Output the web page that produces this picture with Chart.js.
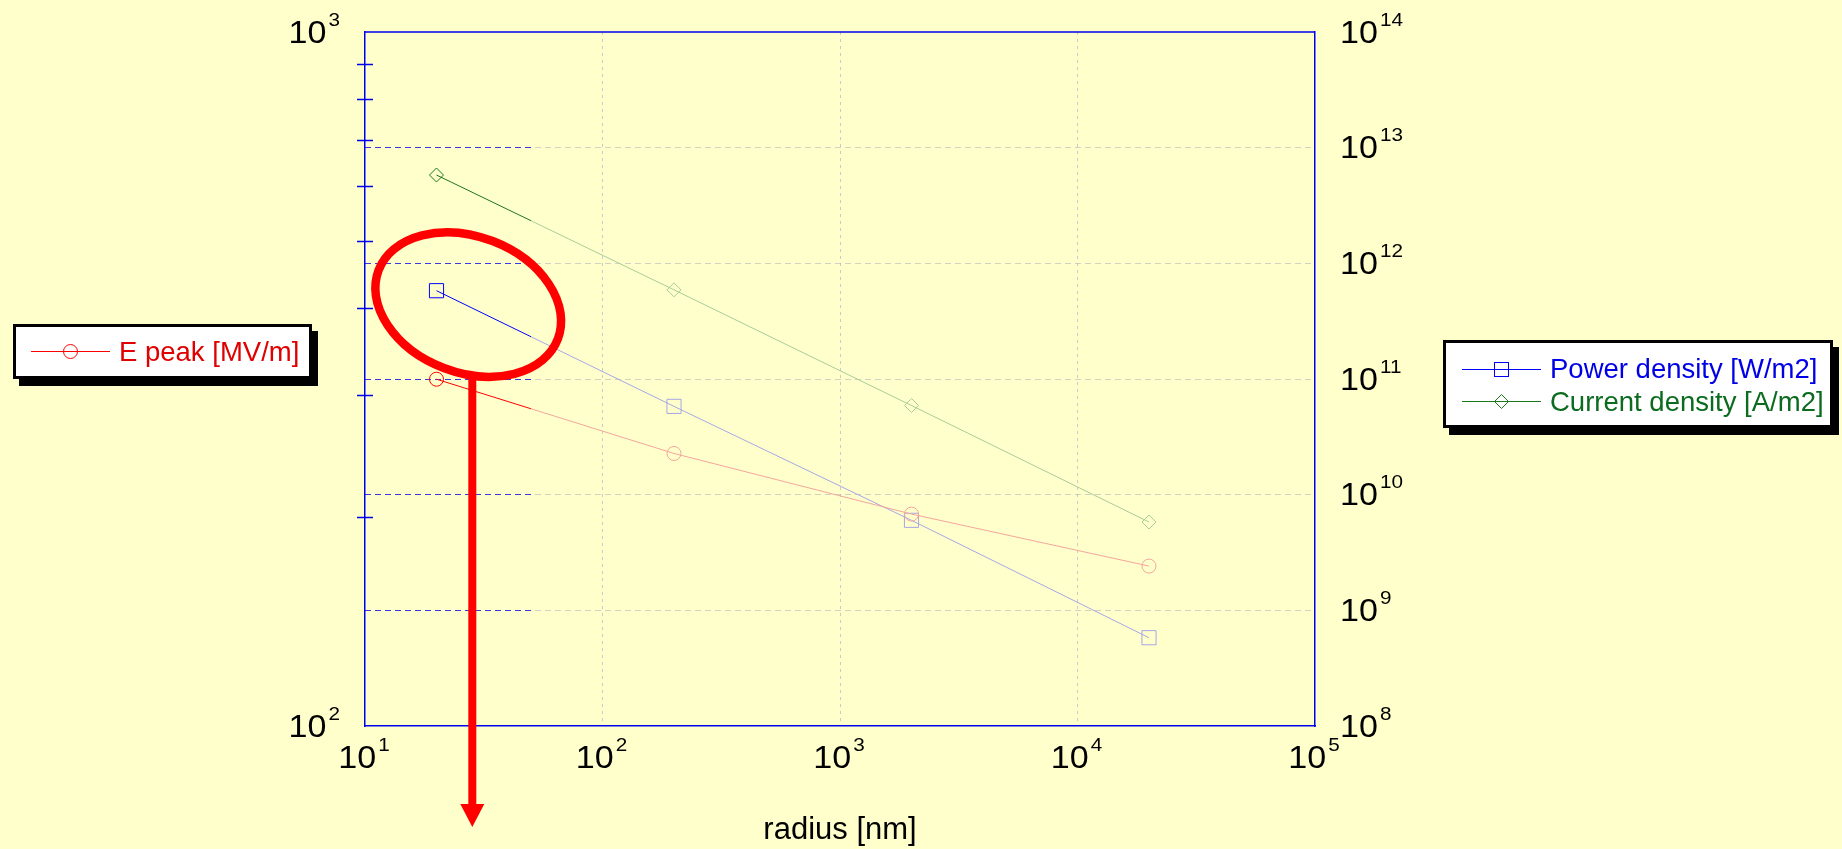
<!DOCTYPE html>
<html>
<head>
<meta charset="utf-8">
<script src="https://cdn.jsdelivr.net/npm/chart.js@4.4.1/dist/chart.umd.min.js"></script>
<style>
  body { margin: 0; background: #ffffcc; }
  #wrap { position: relative; width: 1842px; height: 849px; }
  #chart { display: block; }
  .legend {
    position: absolute; box-sizing: border-box; background: #fff;
    border: 3px solid #000; box-shadow: 6px 7px 0 #000;
    font-family: "Liberation Sans", Arial, sans-serif; font-size: 27.5px;
  }
  .legend .row { display: flex; align-items: center; white-space: nowrap; }
  .legend svg { flex: none; margin-right: 9px; }
</style>
</head>
<body>
<div id="wrap">
  <canvas id="chart" width="1842" height="849"></canvas>
  <div id="legendLeft" class="legend" style="left:13px;top:324px;width:299px;height:55px;padding:9px 0 0 15px;"></div>
  <div id="legendRight" class="legend" style="left:1443px;top:340px;width:390px;height:88px;padding:10px 0 0 16px;"></div>
</div>
<script>
// valores
const radius = [20, 200, 2000, 20000];
const ePeak = [316, 247, 202, 170];
const powerDensity = [5.8e11, 5.8e10, 6.0e9, 5.8e8];
const currentDensity = [5.8e12, 5.9e11, 5.9e10, 5.8e9];

// ticks dos eixos
const xTicks = [1e1, 1e2, 1e3, 1e4, 1e5];
const leftTicks = [1e2, 1e3];
const leftMinorTicks = [200, 300, 400, 500, 600, 700, 800, 900];
const rightTicks = [1e8, 1e9, 1e10, 1e11, 1e12, 1e13, 1e14];

const FONT = '"Liberation Sans", Arial, sans-serif';
const AXIS_BLUE = '#0000ee';
const FADE_AT = 50; // a partir daqui as linhas ficam apagadas

function fade(chart, full, faint) {
  const area = chart.chartArea;
  if (!area || !chart.scales.x) return full;
  const px = chart.scales.x.getPixelForValue(FADE_AT);
  const f = Math.min(1, Math.max(0, (px - area.left) / (area.right - area.left)));
  const g = chart.ctx.createLinearGradient(area.left, 0, area.right, 0);
  g.addColorStop(0, full);
  g.addColorStop(f, full);
  g.addColorStop(f, faint);
  g.addColorStop(1, faint);
  return g;
}

function series(label, ys, axis, full, faint, style, r) {
  return {
    label: label,
    data: radius.map((x, i) => ({x: x, y: ys[i]})),
    yAxisID: axis,
    legendSide: axis === 'y' ? 'left' : 'right',
    color: full,
    borderColor: ctx => fade(ctx.chart, full, faint),
    borderWidth: 1,
    pointStyle: style,
    pointRadius: r,
    pointHoverRadius: r,
    pointBorderWidth: 1,
    pointBorderColor: ctx => ctx.dataIndex === 0 ? full : faint,
    pointBackgroundColor: 'rgba(0,0,0,0)',
    tension: 0
  };
}

const frame = {
  id: 'frame',
  afterDatasetsDraw(chart) {
    const {ctx, chartArea: a} = chart;
    const yl = chart.scales.y;
    ctx.save();
    ctx.strokeStyle = AXIS_BLUE;
    ctx.lineWidth = 1.5;
    ctx.beginPath();
    ctx.moveTo(a.left, a.top);
    ctx.lineTo(a.right, a.top);
    leftMinorTicks.forEach(v => {
      const py = Math.round(yl.getPixelForValue(v)) + 0.5;
      ctx.moveTo(a.left - 8, py);
      ctx.lineTo(a.left + 8, py);
    });
    ctx.stroke();
    ctx.restore();
  }
};

// rotulos 10^n com expoente elevado
const powerLabels = {
  id: 'powerLabels',
  afterDraw(chart) {
    const ctx = chart.ctx;
    const big = '31px ' + FONT, small = '18px ' + FONT;
    const sBig = 1.1, sSmall = 1.15;
    const put = (txt, font, sx, x, y) => {
      ctx.save();
      ctx.font = font;
      ctx.translate(x, y);
      ctx.scale(sx, 1);
      ctx.fillText(txt, 0, 0);
      ctx.restore();
    };
    const draw = (v, px, base, align) => {
      const exp = String(Math.round(Math.log10(v)));
      ctx.font = big;
      const w1 = ctx.measureText('10').width * sBig;
      ctx.font = small;
      const w2 = ctx.measureText(exp).width * sSmall;
      const w = w1 + 2 + w2;
      const x0 = align === 'center' ? px - w / 2 : align === 'right' ? px - w : px;
      put('10', big, sBig, x0, base);
      put(exp, small, sSmall, x0 + w1 + 2, base - 17);
    };
    const {x, y, y2} = chart.scales;
    ctx.save();
    ctx.fillStyle = '#000';
    ctx.textAlign = 'left';
    ctx.textBaseline = 'alphabetic';
    x.ticks.forEach(t => draw(t.value, x.getPixelForValue(t.value) - 1, x.top + 42, 'center'));
    y.ticks.forEach(t => draw(t.value, y.right - 25, y.getPixelForValue(t.value) + 10.5, 'right'));
    y2.ticks.forEach(t => draw(t.value, y2.left + 25, y2.getPixelForValue(t.value) + 10.5, 'left'));
    ctx.restore();
  }
};

// elipse e seta vermelhas
const mark = {x: 27.2, y: 4.4e11, rx: 96, ry: 68, angle: 21, arrowX: 28.3, tipBelow: 101};
const annotation = {
  id: 'annotation',
  afterDraw(chart) {
    const {ctx, chartArea: a} = chart;
    const cx = chart.scales.x.getPixelForValue(mark.x);
    const cy = chart.scales.y2.getPixelForValue(mark.y);
    const ax = chart.scales.x.getPixelForValue(mark.arrowX);
    const tip = a.bottom + mark.tipBelow;
    ctx.save();
    ctx.strokeStyle = '#ff0000';
    ctx.fillStyle = '#ff0000';
    ctx.lineWidth = 8;
    ctx.beginPath();
    ctx.moveTo(ax, cy + 70);
    ctx.lineTo(ax, tip - 22);
    ctx.stroke();
    ctx.beginPath();
    ctx.moveTo(ax - 12, tip - 23);
    ctx.lineTo(ax + 12, tip - 23);
    ctx.lineTo(ax, tip);
    ctx.closePath();
    ctx.fill();
    ctx.lineWidth = 8.5;
    ctx.beginPath();
    ctx.ellipse(cx, cy, mark.rx, mark.ry, mark.angle * Math.PI / 180, 0, Math.PI * 2);
    ctx.stroke();
    ctx.restore();
  }
};

const hGridColor = ctx => {
  if (ctx.tick && (ctx.tick.value === rightTicks[0] || ctx.tick.value === rightTicks[rightTicks.length - 1])) return 'rgba(0,0,0,0)';
  return fade(ctx.chart, '#3a3ae0', 'rgba(165,165,180,0.5)');
};
const vGridColor = ctx => {
  if (ctx.tick && (ctx.tick.value === xTicks[0] || ctx.tick.value === xTicks[xTicks.length - 1])) return 'rgba(0,0,0,0)';
  return 'rgba(150,150,200,0.5)';
};

const noPad = s => { s.paddingTop = 0; s.paddingBottom = 0; s.paddingLeft = 0; s.paddingRight = 0; };

const chart = new Chart(document.getElementById('chart').getContext('2d'), {
  type: 'line',
  data: {
    datasets: [
      series('E peak [MV/m]', ePeak, 'y', '#ff0000', '#f3a59c', 'circle', 7),
      series('Power density [W/m2]', powerDensity, 'y2', '#0000ff', '#a6a6e6', 'rect', 10),
      series('Current density [A/m2]', currentDensity, 'y2', '#1a781a', '#a8cc9a', 'rectRot', 7)
    ]
  },
  options: {
    responsive: false,
    animation: false,
    devicePixelRatio: 1,
    layout: {padding: {top: 32, left: 0, right: 0, bottom: 0}},
    plugins: {legend: {display: false}, tooltip: {enabled: false}},
    scales: {
      x: {
        type: 'logarithmic', position: 'bottom', min: 10, max: 1e5,
        afterBuildTicks: s => { s.ticks = xTicks.map(v => ({value: v})); },
        afterFit: s => { s.height = 123; noPad(s); },
        ticks: {display: false},
        grid: {color: vGridColor, lineWidth: 1, drawTicks: false},
        border: {color: AXIS_BLUE, width: 1.5, dash: [3, 4]},
        title: {display: true, text: 'radius [nm]', color: '#000', font: {family: FONT, size: 31}, padding: {top: 0, bottom: 0}}
      },
      y: {
        type: 'logarithmic', position: 'left', min: 100, max: 1000,
        afterBuildTicks: s => { s.ticks = leftTicks.map(v => ({value: v})); },
        afterFit: s => { s.width = 365; noPad(s); },
        ticks: {display: false},
        grid: {drawOnChartArea: false, drawTicks: false},
        border: {color: AXIS_BLUE, width: 1.5}
      },
      y2: {
        type: 'logarithmic', position: 'right', min: 1e8, max: 1e14,
        afterBuildTicks: s => { s.ticks = rightTicks.map(v => ({value: v})); },
        afterFit: s => { s.width = 527; noPad(s); },
        ticks: {display: false},
        grid: {color: hGridColor, lineWidth: 1, drawTicks: false},
        border: {color: AXIS_BLUE, width: 1.5, dash: [6, 4]}
      }
    }
  },
  plugins: [frame, powerLabels, annotation]
});

// legendas em html, montadas a partir dos datasets
const textColors = {'#ff0000': '#e00000', '#0000ff': '#0000e6', '#1a781a': '#0b6b1e'};
function markerSvg(ds) {
  const c = ds.color;
  let m = '';
  if (ds.pointStyle === 'circle') m = `<circle cx="39.5" cy="10.5" r="7" fill="none" stroke="${c}"/>`;
  if (ds.pointStyle === 'rect') m = `<rect x="32.5" y="3.5" width="14" height="14" fill="none" stroke="${c}"/>`;
  if (ds.pointStyle === 'rectRot') m = `<polygon points="39.5,3.5 46.5,10.5 39.5,17.5 32.5,10.5" fill="none" stroke="${c}"/>`;
  return `<svg width="79" height="21"><line x1="0" y1="10.5" x2="79" y2="10.5" stroke="${c}" stroke-width="1"/>${m}</svg>`;
}
chart.data.datasets.forEach(ds => {
  const box = document.getElementById(ds.legendSide === 'left' ? 'legendLeft' : 'legendRight');
  const row = document.createElement('div');
  row.className = 'row';
  row.style.height = ds.legendSide === 'left' ? '31px' : '32.5px';
  row.innerHTML = markerSvg(ds) + `<span style="color:${textColors[ds.color]}">${ds.label}</span>`;
  box.appendChild(row);
});
</script>
</body>
</html>
